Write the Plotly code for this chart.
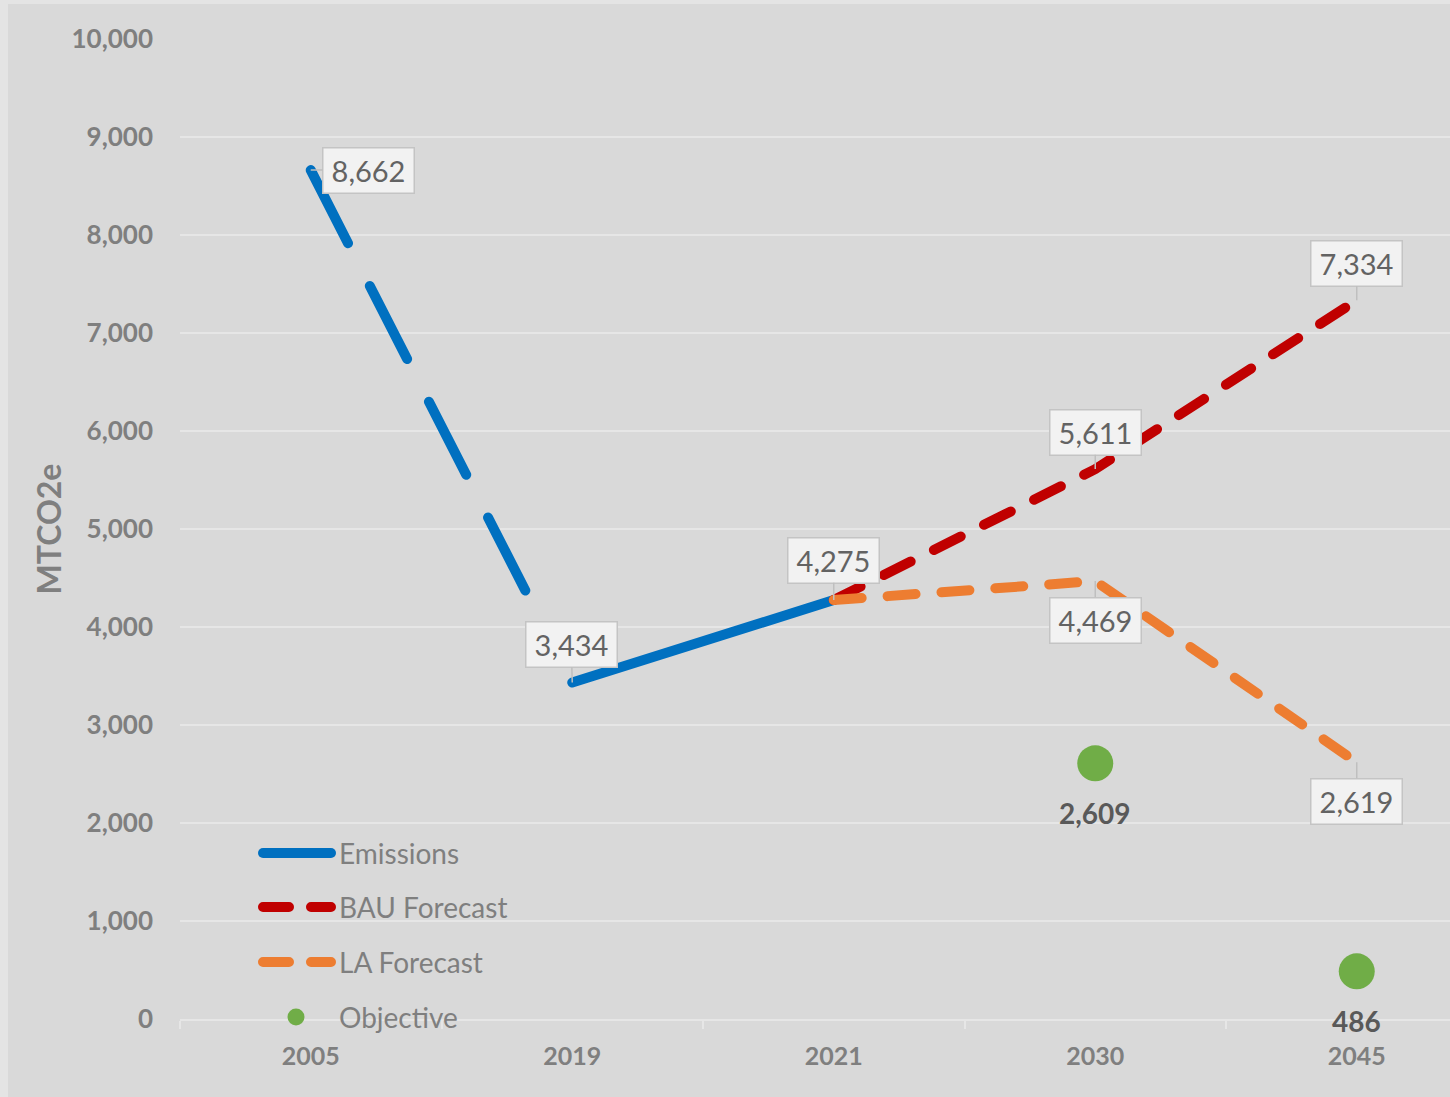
import plotly.graph_objects as go

# ---- data ----
years = ["2005", "2019", "2021", "2030", "2045"]
emissions = [8662, 3434, 4275, None, None]
bau_forecast = [None, None, 4275, 5611, 7334]
la_forecast = [None, None, 4275, 4469, 2619]
objective = [None, None, None, 2609, 486]

BLUE = "#0070c0"
RED = "#c00000"
ORANGE = "#ed7d31"
GREEN = "#70ad47"
GRID = "#e6e6e6"
TXT = "#7f7f7f"
FONT = "Lato"

W, H = 1450, 1097
ML, MR, MT, MB = 180, 0, 39, 78
PW, PH = W - ML - MR, H - MT - MB


def px_x(p):
    return (p - ML) / PW


def px_y(p):
    return (H - MB - p) / PH


fig = go.Figure()


def pts(xs, ys):
    xx, yy = [], []
    for a, b in zip(xs, ys):
        if b is not None:
            xx.append(a)
            yy.append(b)
    return xx, yy


# Emissions: historical (dashed) and recent (solid)
x, y = pts(years[0:2], emissions[0:2])
fig.add_trace(go.Scatter(x=x, y=y, mode="lines", showlegend=False,
                         line=dict(color=BLUE, width=10,
                                   dash="82px,48px,82px,48px,82px,48px,82px,200px")))
x, y = pts(years[1:3], emissions[1:3])
fig.add_trace(go.Scatter(x=x, y=y, mode="lines", showlegend=False,
                         line=dict(color=BLUE, width=10)))
x, y = pts(years, bau_forecast)
fig.add_trace(go.Scatter(x=x, y=y, mode="lines", showlegend=False,
                         line=dict(color=RED, width=10, dash="30px,26px")))
x, y = pts(years, la_forecast)
fig.add_trace(go.Scatter(x=x, y=y, mode="lines", showlegend=False,
                         line=dict(color=ORANGE, width=10, dash="28px,26px")))
x, y = pts(years, objective)
fig.add_trace(go.Scatter(x=x, y=y, mode="markers", showlegend=False,
                         marker=dict(color=GREEN, size=36)))

annotations = []
# objective value labels
for i, v in enumerate(objective):
    if v is not None:
        annotations.append(dict(x=i, y=v, xref="x", yref="y", text=f"{v:,}",
                                showarrow=False, yshift=-50,
                                font=dict(family=FONT, size=28, color="#595959", weight="bold")))

# ---- callout labels ----
callouts = [
    (0, emissions[0], 58, 0),
    (1, emissions[1], -1, -38),
    (2, emissions[2], 0, -40),
    (3, bau_forecast[3], 0, -37),
    (3, la_forecast[3], 0, 39),
    (4, bau_forecast[4], 0, -37),
    (4, la_forecast[4], 0, 39),
]
for cx, cy, ax, ay in callouts:
    annotations.append(dict(
        x=cx, y=cy, xref="x", yref="y", text=f"{cy:,}", showarrow=True,
        ax=ax, ay=ay, arrowhead=0, arrowwidth=1.5, arrowcolor="#bfbfbf",
        bgcolor="#f2f2f2", bordercolor="#c4c4c4", borderwidth=1.5, borderpad=3,
        width=84, height=38,
        font=dict(family=FONT, size=29, color="#636363")))

# ---- manual legend ----
shapes = []
legend_rows = [("Emissions", BLUE, "solid", 853), ("BAU Forecast", RED, "26px,22px", 907),
               ("LA Forecast", ORANGE, "26px,22px", 962)]
for name, col, dash, ry in legend_rows:
    shapes.append(dict(type="line", xref="paper", yref="paper",
                       x0=px_x(263), x1=px_x(331), y0=px_y(ry), y1=px_y(ry),
                       line=dict(color=col, width=10, dash=dash)))
    annotations.append(dict(x=px_x(337), y=px_y(ry), xref="paper", yref="paper",
                            text=name, showarrow=False, xanchor="left", yanchor="middle",
                            font=dict(family=FONT, size=28, color=TXT)))
shapes.append(dict(type="circle", xref="paper", yref="paper",
                   x0=px_x(287.5), x1=px_x(304.5), y0=px_y(1025.5), y1=px_y(1008.5),
                   fillcolor=GREEN, line=dict(width=0)))
annotations.append(dict(x=px_x(337), y=px_y(1017), xref="paper", yref="paper",
                        text="Objective", showarrow=False, xanchor="left", yanchor="middle",
                        font=dict(family=FONT, size=28, color=TXT)))

# outer frame strips (top and left)
shapes.append(dict(type="rect", xref="paper", yref="paper", layer="above",
                   x0=px_x(0), x1=px_x(8), y0=px_y(H), y1=px_y(0),
                   fillcolor="#e4e4e4", line=dict(width=0)))
shapes.append(dict(type="rect", xref="paper", yref="paper", layer="above",
                   x0=px_x(0), x1=px_x(W), y0=px_y(4), y1=px_y(0),
                   fillcolor="#e4e4e4", line=dict(width=0)))

fig.update_layout(
    width=W, height=H,
    margin=dict(l=ML, r=MR, t=MT, b=MB),
    paper_bgcolor="#d9d9d9", plot_bgcolor="#d9d9d9",
    showlegend=False,
    shapes=shapes, annotations=annotations,
    xaxis=dict(type="category", categoryorder="array", categoryarray=years,
               range=[-0.5, -0.5 + PW / 261.5], tickson="boundaries",
               ticks="outside", ticklen=8, tickwidth=2, tickcolor=GRID,
               showline=True, linecolor=GRID, linewidth=2, showgrid=False,
               ticklabelstandoff=14,
               tickfont=dict(family=FONT, size=25, color=TXT, weight="bold")),
    yaxis=dict(range=[0, 10000], dtick=1000, tickformat=",", showline=False,
               gridcolor=GRID, gridwidth=2, zeroline=False, ticks="",
               ticklabelstandoff=26,
               tickfont=dict(family=FONT, size=26, color=TXT, weight="bold"),
               title=dict(text="MTCO2e", standoff=0,
                          font=dict(family=FONT, size=32, color=TXT, weight="bold"))),
)

post = """
document.body.style.margin='0';
document.body.style.overflow='hidden';
function roundCaps(){
  document.querySelectorAll('.scatterlayer .js-line, .shapelayer path').forEach(function(p){
    p.style.strokeLinecap='round'; p.style.strokeLinejoin='round';
  });
}
roundCaps();
var gd=document.getElementsByClassName('plotly-graph-div')[0];
if(gd && gd.on){ gd.on('plotly_afterplot', roundCaps); }
"""

fig.write_html("out.html", post_script=post, config={"displayModeBar": False})
